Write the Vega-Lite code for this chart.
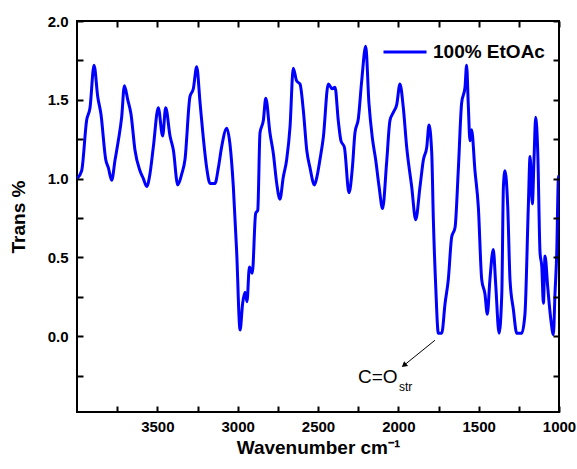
{
  "$schema": "https://vega.github.io/schema/vega-lite/v6.json",
  "width": 482,
  "height": 391,
  "autosize": "none",
  "padding": {"left": 77, "top": 21, "right": 18, "bottom": 57},
  "background": "white",
  "config": {
    "view": {"stroke": "black", "strokeWidth": 2},
    "font": "Liberation Sans",
    "axis": {
      "grid": false,
      "domain": false,
      "tickColor": "black",
      "tickWidth": 2,
      "labelFont": "Liberation Sans",
      "labelFontWeight": "bold",
      "labelFontSize": 15,
      "labelColor": "black",
      "titleFont": "Liberation Sans",
      "titleFontWeight": "bold",
      "titleFontSize": 19,
      "titleColor": "black",
      "labelFlush": false,
      "labelOverlap": false
    }
  },
  "datasets": {
    "spectrum": [
      {"wn": 4000, "t": 1.00}, {"wn": 3971, "t": 1.05}, {"wn": 3940, "t": 1.37}, {"wn": 3919, "t": 1.45},
      {"wn": 3894, "t": 1.72}, {"wn": 3871, "t": 1.52}, {"wn": 3851, "t": 1.41}, {"wn": 3821, "t": 1.12},
      {"wn": 3805, "t": 1.07}, {"wn": 3784, "t": 0.99}, {"wn": 3763, "t": 1.12}, {"wn": 3743, "t": 1.24},
      {"wn": 3722, "t": 1.39}, {"wn": 3705, "t": 1.59}, {"wn": 3684, "t": 1.50}, {"wn": 3664, "t": 1.41},
      {"wn": 3639, "t": 1.18}, {"wn": 3608, "t": 1.05}, {"wn": 3587, "t": 1.00}, {"wn": 3566, "t": 0.95},
      {"wn": 3546, "t": 1.03}, {"wn": 3525, "t": 1.20}, {"wn": 3494, "t": 1.45}, {"wn": 3467, "t": 1.27},
      {"wn": 3448, "t": 1.45}, {"wn": 3421, "t": 1.27}, {"wn": 3400, "t": 1.18}, {"wn": 3373, "t": 0.96},
      {"wn": 3348, "t": 1.03}, {"wn": 3328, "t": 1.12}, {"wn": 3297, "t": 1.52}, {"wn": 3276, "t": 1.57},
      {"wn": 3255, "t": 1.71}, {"wn": 3234, "t": 1.48}, {"wn": 3214, "t": 1.26}, {"wn": 3193, "t": 1.07},
      {"wn": 3172, "t": 0.97}, {"wn": 3141, "t": 0.97}, {"wn": 3120, "t": 1.07}, {"wn": 3100, "t": 1.20},
      {"wn": 3068, "t": 1.32}, {"wn": 3048, "t": 1.22}, {"wn": 3027, "t": 0.95}, {"wn": 3006, "t": 0.53},
      {"wn": 2985, "t": 0.04}, {"wn": 2969, "t": 0.21}, {"wn": 2954, "t": 0.28}, {"wn": 2942, "t": 0.22},
      {"wn": 2927, "t": 0.44}, {"wn": 2909, "t": 0.40}, {"wn": 2888, "t": 0.78}, {"wn": 2875, "t": 0.80},
      {"wn": 2861, "t": 1.29}, {"wn": 2840, "t": 1.37}, {"wn": 2825, "t": 1.51}, {"wn": 2799, "t": 1.29},
      {"wn": 2778, "t": 1.16}, {"wn": 2757, "t": 0.97}, {"wn": 2737, "t": 0.87}, {"wn": 2716, "t": 1.01},
      {"wn": 2695, "t": 1.12}, {"wn": 2674, "t": 1.33}, {"wn": 2654, "t": 1.70}, {"wn": 2633, "t": 1.62},
      {"wn": 2612, "t": 1.60}, {"wn": 2591, "t": 1.43}, {"wn": 2570, "t": 1.18}, {"wn": 2550, "t": 1.07},
      {"wn": 2522, "t": 0.96}, {"wn": 2505, "t": 1.02}, {"wn": 2488, "t": 1.12}, {"wn": 2467, "t": 1.26},
      {"wn": 2436, "t": 1.60}, {"wn": 2411, "t": 1.57}, {"wn": 2394, "t": 1.58}, {"wn": 2374, "t": 1.37},
      {"wn": 2357, "t": 1.24}, {"wn": 2336, "t": 1.20}, {"wn": 2307, "t": 0.91}, {"wn": 2286, "t": 1.07},
      {"wn": 2270, "t": 1.29}, {"wn": 2249, "t": 1.38}, {"wn": 2228, "t": 1.62}, {"wn": 2203, "t": 1.84},
      {"wn": 2183, "t": 1.48}, {"wn": 2162, "t": 1.26}, {"wn": 2141, "t": 1.12}, {"wn": 2120, "t": 0.95},
      {"wn": 2098, "t": 0.81}, {"wn": 2073, "t": 1.10}, {"wn": 2052, "t": 1.37}, {"wn": 2031, "t": 1.42},
      {"wn": 2010, "t": 1.47}, {"wn": 1990, "t": 1.60}, {"wn": 1969, "t": 1.45}, {"wn": 1948, "t": 1.20},
      {"wn": 1917, "t": 0.95}, {"wn": 1892, "t": 0.74}, {"wn": 1865, "t": 0.95}, {"wn": 1844, "t": 1.12},
      {"wn": 1823, "t": 1.20}, {"wn": 1809, "t": 1.34}, {"wn": 1792, "t": 1.16}, {"wn": 1782, "t": 0.74},
      {"wn": 1767, "t": 0.31}, {"wn": 1751, "t": 0.02}, {"wn": 1730, "t": 0.02}, {"wn": 1709, "t": 0.21},
      {"wn": 1689, "t": 0.36}, {"wn": 1668, "t": 0.63}, {"wn": 1647, "t": 0.69}, {"wn": 1627, "t": 1.05},
      {"wn": 1606, "t": 1.48}, {"wn": 1585, "t": 1.58}, {"wn": 1575, "t": 1.72}, {"wn": 1565, "t": 1.48},
      {"wn": 1554, "t": 1.24}, {"wn": 1544, "t": 1.31}, {"wn": 1523, "t": 1.05}, {"wn": 1502, "t": 0.82},
      {"wn": 1481, "t": 0.36}, {"wn": 1461, "t": 0.27}, {"wn": 1446, "t": 0.14}, {"wn": 1430, "t": 0.36},
      {"wn": 1409, "t": 0.55}, {"wn": 1394, "t": 0.33}, {"wn": 1373, "t": 0.02}, {"wn": 1356, "t": 0.27},
      {"wn": 1346, "t": 0.95}, {"wn": 1336, "t": 1.05}, {"wn": 1319, "t": 0.82}, {"wn": 1305, "t": 0.36},
      {"wn": 1284, "t": 0.17}, {"wn": 1263, "t": 0.02}, {"wn": 1232, "t": 0.02}, {"wn": 1212, "t": 0.14},
      {"wn": 1191, "t": 0.82}, {"wn": 1180, "t": 1.14}, {"wn": 1166, "t": 0.84}, {"wn": 1155, "t": 1.14},
      {"wn": 1145, "t": 1.39}, {"wn": 1132, "t": 1.16}, {"wn": 1118, "t": 0.53}, {"wn": 1107, "t": 0.44},
      {"wn": 1097, "t": 0.21}, {"wn": 1087, "t": 0.51}, {"wn": 1070, "t": 0.31}, {"wn": 1050, "t": 0.10},
      {"wn": 1035, "t": 0.01}, {"wn": 1025, "t": 0.27}, {"wn": 1014, "t": 0.53}, {"wn": 1004, "t": 1.00},
      {"wn": 1000, "t": 1.02}
    ],
    "anchor": [{"wn": 4000, "t": 2.0}],
    "arrow": [{"wn": 1772, "t": -0.025, "wn2": 1965, "t2": -0.184}],
    "label": [{"wn": 2251, "t": -0.26, "text": "C=O"}],
    "sub": [{"wn": 1996, "t": -0.32, "text": "str"}]
  },
  "resolve": {"axis": {"x": "independent", "y": "independent"}},
  "layer": [
    {
      "data": {"name": "spectrum"},
      "mark": {"type": "line", "strokeWidth": 3, "clip": true, "interpolate": "monotone"},
      "encoding": {
        "x": {
          "field": "wn", "type": "quantitative",
          "scale": {"domain": [1000, 4000], "reverse": true, "nice": false, "zero": false},
          "axis": {
            "orient": "bottom", "zindex": 1,
            "values": [3750, 3500, 3250, 3000, 2750, 2500, 2250, 2000, 1750, 1500, 1250, 1000],
            "format": "d",
            "labelExpr": "datum.value % 500 === 0 ? datum.label : ''",
            "ticks": true, "tickSize": 6, "tickColor": "black", "tickWidth": 2, "offset": -6, "labelPadding": 7,
            "title": "Wavenumber cm⁻¹", "titlePadding": 4
          }
        },
        "y": {
          "field": "t", "type": "quantitative",
          "scale": {"domain": [-0.48, 2.0], "nice": false, "zero": false},
          "axis": {
            "orient": "left", "zindex": 1,
            "values": [-0.25, 0, 0.25, 0.5, 0.75, 1, 1.25, 1.5, 1.75, 2],
            "format": ".1f",
            "labelExpr": "datum.value % 0.5 === 0 ? datum.label : ''",
            "ticks": true, "tickSize": 6, "tickColor": "black", "tickWidth": 2, "offset": -6, "labelPadding": 9,
            "title": "Trans %", "titlePadding": 19
          }
        },
        "color": {
          "datum": "100% EtOAc",
          "type": "nominal",
          "scale": {"range": ["#0000ff"]},
          "legend": {
            "orient": "none", "legendX": 305, "legendY": 8, "title": null,
            "symbolType": "stroke", "symbolSize": 1849, "symbolStrokeWidth": 3,
            "labelFont": "Liberation Sans", "labelFontSize": 19, "labelFontWeight": "bold",
            "labelColor": "black", "labelOffset": 5, "padding": 0
          }
        }
      }
    },
    {
      "data": {"name": "anchor"},
      "mark": {"type": "point", "opacity": 0},
      "encoding": {
        "x": {"field": "wn", "type": "quantitative",
          "axis": {
            "orient": "top", "zindex": 1,
            "values": [3750, 3500, 3250, 3000, 2750, 2500, 2250, 2000, 1750, 1500, 1250, 1000],
            "labels": false, "ticks": true, "tickSize": 6, "tickColor": "black", "tickWidth": 2, "offset": -6, "title": null
          }},
        "y": {"field": "t", "type": "quantitative",
          "axis": {
            "orient": "right", "zindex": 1,
            "values": [-0.25, 0, 0.25, 0.5, 0.75, 1, 1.25, 1.5, 1.75, 2],
            "labels": false, "ticks": true, "tickSize": 6, "tickColor": "black", "tickWidth": 2, "offset": -6, "title": null
          }}
      }
    },
    {
      "data": {"name": "arrow"},
      "mark": {"type": "rule", "color": "black", "strokeWidth": 1},
      "encoding": {
        "x": {"field": "wn", "type": "quantitative", "axis": null},
        "x2": {"field": "wn2"},
        "y": {"field": "t", "type": "quantitative", "axis": null},
        "y2": {"field": "t2"}
      }
    },
    {
      "data": {"name": "arrow"},
      "mark": {"type": "point", "shape": "triangle-up", "filled": true, "color": "black", "size": 40, "angle": 231, "opacity": 1},
      "encoding": {
        "x": {"field": "wn2", "type": "quantitative", "axis": null},
        "y": {"field": "t2", "type": "quantitative", "axis": null}
      }
    },
    {
      "data": {"name": "label"},
      "mark": {"type": "text", "align": "left", "baseline": "middle", "fontSize": 19, "font": "Liberation Sans", "color": "black"},
      "encoding": {
        "x": {"field": "wn", "type": "quantitative", "axis": null},
        "y": {"field": "t", "type": "quantitative", "axis": null},
        "text": {"field": "text"}
      }
    },
    {
      "data": {"name": "sub"},
      "mark": {"type": "text", "align": "left", "baseline": "middle", "fontSize": 12, "font": "Liberation Sans", "color": "black"},
      "encoding": {
        "x": {"field": "wn", "type": "quantitative", "axis": null},
        "y": {"field": "t", "type": "quantitative", "axis": null},
        "text": {"field": "text"}
      }
    }
  ]
}
